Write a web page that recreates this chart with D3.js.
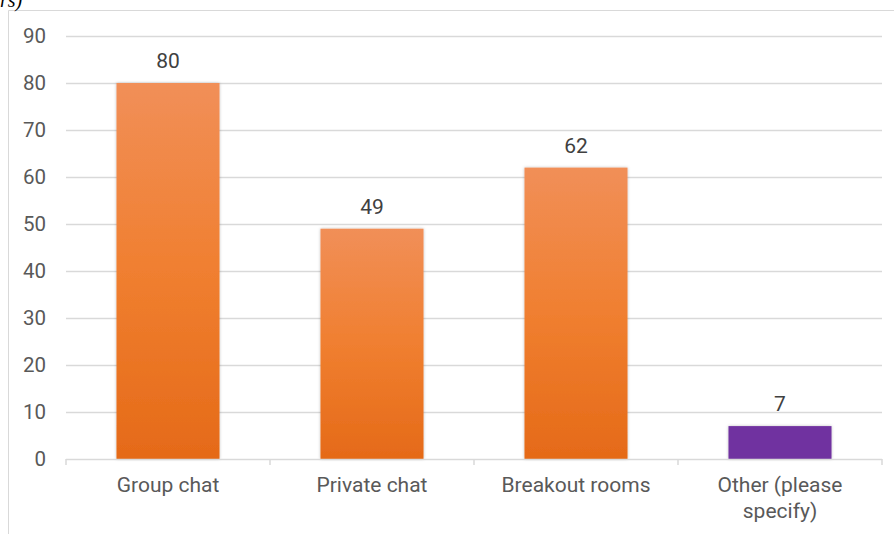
<!DOCTYPE html>
<html><head><meta charset="utf-8">
<script src="https://cdn.jsdelivr.net/npm/d3@7"></script>
<style>body{margin:0;background:#fff}svg{display:block}</style>
</head><body>
<svg id="c" width="894" height="534"></svg>
<script>
const categories = ["Group chat", "Private chat", "Breakout rooms", "Other (please specify)"];
const categoryLines = [["Group chat"], ["Private chat"], ["Breakout rooms"], ["Other (please", "specify)"]];
const values = [80, 49, 62, 7];
const yTicks = [0, 10, 20, 30, 40, 50, 60, 70, 80, 90];

(function() {
const svg = d3.select("#c");
const pLeft = 66, pRight = 882, pTop = 36, pBottom = 459;
const x = d3.scaleBand().domain(categories).range([pLeft, pRight]).paddingInner(0.495).paddingOuter(0.2475);
const xb = d3.scaleBand().domain(categories).range([pLeft, pRight]);
const y = d3.scaleLinear().domain([0, 90]).range([pBottom, pTop]);
const font = "Roboto, 'Noto Sans', sans-serif";
const txt = "#595959";

const defs = svg.append("defs");
const g = defs.append("linearGradient").attr("id", "og").attr("x1", 0).attr("y1", 0).attr("x2", 0).attr("y2", 1);
g.append("stop").attr("offset", "0%").attr("stop-color", "#F18F58");
g.append("stop").attr("offset", "50%").attr("stop-color", "#F07F30");
g.append("stop").attr("offset", "100%").attr("stop-color", "#E56A18");
const f = defs.append("filter").attr("id", "sh").attr("x", "-10%").attr("y", "-10%").attr("width", "120%").attr("height", "120%");
f.append("feDropShadow").attr("dx", 0).attr("dy", 0).attr("stdDeviation", 1.5).attr("flood-color", "#000").attr("flood-opacity", 0.25);

// chart frame
svg.append("path").attr("d", "M8.5,534 V10.5 H894").attr("fill", "none").attr("stroke", "#d9d9d9").attr("stroke-width", 1);
svg.append("text").attr("x", 0).attr("y", 7).attr("font-family", "'Liberation Serif', serif").attr("font-style", "italic").attr("font-size", 20).attr("fill", "#000").text("rs)");

// gridlines
svg.append("g").selectAll("line").data(yTicks.filter(d => d > 0)).join("line")
  .attr("x1", pLeft).attr("x2", pRight).attr("y1", d => Math.round(y(d)) + 0.5).attr("y2", d => Math.round(y(d)) + 0.5)
  .attr("stroke", "#d9d9d9").attr("stroke-width", 1.3);

// y axis labels
const ya = svg.append("g").attr("transform", `translate(${pLeft},0)`)
  .call(d3.axisLeft(y).tickValues(yTicks).tickSize(0).tickPadding(20));
ya.select(".domain").remove();
ya.selectAll("text").attr("font-family", font).attr("font-size", 20.5).attr("fill", txt);

// bars
svg.append("g").selectAll("rect").data(values).join("rect")
  .attr("x", (d, i) => x(categories[i])).attr("width", x.bandwidth())
  .attr("y", d => y(d)).attr("height", d => pBottom - y(d))
  .attr("fill", (d, i) => i === 3 ? "#7030A0" : "url(#og)")
  .attr("filter", "url(#sh)");

// x axis line + ticks
const xa = svg.append("g").attr("transform", `translate(0,${pBottom})`);
xa.append("line").attr("x1", pLeft).attr("x2", pRight).attr("y1", 0.5).attr("y2", 0.5).attr("stroke", "#d9d9d9").attr("stroke-width", 1.5);
const bounds = categories.map(c => xb(c)).concat([pRight]);
xa.selectAll("line.t").data(bounds).join("line").attr("class", "t")
  .attr("x1", d => d).attr("x2", d => d).attr("y1", 0).attr("y2", 6).attr("stroke", "#d9d9d9").attr("stroke-width", 1.5);

// x labels
svg.append("g").selectAll("text").data(categoryLines).join("text")
  .attr("x", (d, i) => x(categories[i]) + x.bandwidth() / 2).attr("y", 492)
  .attr("text-anchor", "middle").attr("font-family", font).attr("font-size", 21).attr("fill", txt)
  .each(function(lines) {
    const t = d3.select(this);
    t.selectAll("tspan").data(lines).join("tspan")
      .attr("x", t.attr("x")).attr("dy", (l, j) => j === 0 ? 0 : 26).text(l => l);
  });

// value labels
svg.append("g").selectAll("text").data(values).join("text")
  .attr("x", (d, i) => x(categories[i]) + x.bandwidth() / 2).attr("y", d => y(d) - 15)
  .attr("text-anchor", "middle").attr("font-family", font).attr("font-size", 21).attr("fill", "#404040")
  .text(d => d);
})();
</script>
</body></html>
